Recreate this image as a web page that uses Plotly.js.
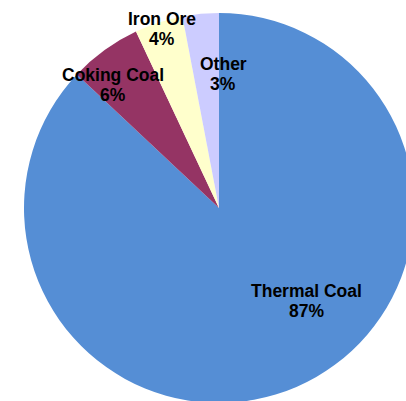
<!DOCTYPE html>
<html>
<head>
<meta charset="utf-8">
<script src="https://cdn.plot.ly/plotly-3.0.1.min.js"></script>
<style>
html,body{margin:0;padding:0;overflow:hidden;background:#fff;width:406px;height:401px;}
#chart{width:414px;height:403px;}
</style>
</head>
<body>
<div id="chart"></div>
<script>
const categories = ["Thermal Coal", "Coking Coal", "Iron Ore", "Other"];
const shares = [87, 6, 4, 3];
const colors = ["#558ED5", "#953464", "#FFFFCC", "#CCCCFF"];

// label anchor positions (pixel centre of first line, within figure)
const labelPos = [[306, 291], [113, 75], [162, 19], [223, 64]];
const lineGap = 20;

const W = 414, H = 403, L = 24, T = 13;
const size = 390;

const annotations = [];
categories.forEach((c, i) => {
  [c, shares[i] + "%"].forEach((txt, k) => {
    annotations.push({
      xref: "paper", yref: "paper",
      x: (labelPos[i][0] - L) / size,
      y: 1 - (labelPos[i][1] + k * lineGap - T) / size,
      text: "<b>" + txt + "</b>",
      showarrow: false,
      xanchor: "center", yanchor: "middle",
      font: {family: "Liberation Sans, Arial, sans-serif", size: 17.5, color: "#000"}
    });
  });
});

Plotly.newPlot("chart", [{
  type: "pie",
  labels: categories,
  values: shares,
  marker: {colors: colors, line: {width: 0}},
  sort: false,
  direction: "clockwise",
  rotation: 0,
  textinfo: "none",
  hoverinfo: "none",
  showlegend: false
}], {
  width: W, height: H,
  margin: {l: L, r: W - L - size, t: T, b: H - T - size, pad: 0},
  paper_bgcolor: "#fff",
  annotations: annotations,
  showlegend: false
}, {displayModeBar: false, staticPlot: true});
</script>
</body>
</html>
